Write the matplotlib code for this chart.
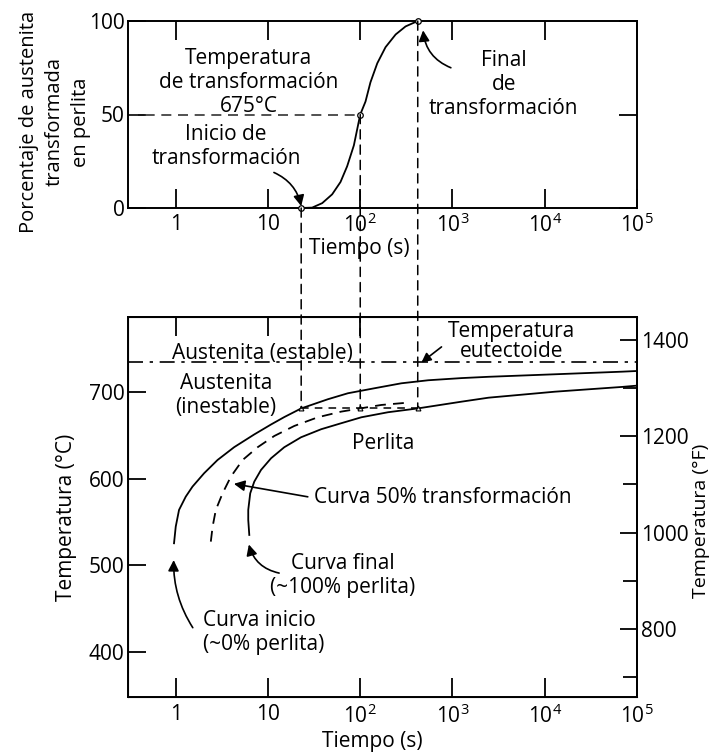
import numpy as np
import matplotlib
matplotlib.use("Agg")
import matplotlib.pyplot as plt
from matplotlib.patches import ConnectionPatch
from matplotlib.ticker import NullLocator

plt.rcParams['font.family'] = ['Open Sans', 'DejaVu Sans']
plt.rcParams['mathtext.default'] = 'regular'
plt.rcParams['font.size'] = 15

# --- data ---
# upper chart: % austenite transformed at 675 C
t_pct = [22.5, 30.1, 38.7, 49.6, 61.1, 72.1, 85.3, 100, 114, 129, 153, 188, 242, 310, 420]
pct = [0, 0.2, 2.6, 7.3, 13.9, 22.3, 33.5, 50, 56.9, 67.2, 77.4, 86, 92.8, 97.1, 100]
t_marks = [22.9, 100, 420]
pct_marks = [0, 50, 100]

# lower chart: TTT curves
t_start = [0.958, 1.0, 1.086, 1.284, 1.52, 2.03, 2.84, 4.30, 7.10, 10.8, 15.0, 22.9,
           44.6, 73.5, 143, 279, 545, 1253, 2460, 12850, 68700, 1e5]
T_start = [525.4, 544.6, 563.9, 579.2, 590.8, 606.2, 621.5, 636.3, 651, 662.5, 671, 681,
           691.6, 698.5, 704.3, 710, 713.5, 716, 717.5, 720.4, 723.4, 724.2]
t_half = [2.40, 2.51, 2.72, 3.22, 3.96, 5.31, 7.72, 11.7, 19.3, 34.7, 62.1, 100, 169, 330]
T_half = [527.3, 544.6, 563.9, 583.1, 602.3, 621.5, 636.2, 649.2, 660.8, 670.8, 677.3, 681, 685, 687.7]
t_end = [6.27, 6.11, 6.11, 6.42, 7.10, 8.40, 10.8, 15.0, 22.8, 37.7, 62.1, 103, 200, 420,
         1253, 2460, 12850, 68700, 1e5]
T_end = [535, 552.3, 563.9, 583.1, 596.5, 610, 623.5, 636.2, 647.7, 657, 663.9, 670.8, 676.6, 681,
         688.8, 693.4, 700.3, 705.8, 707.3]
T_iso = 681          # isothermal line (675 C in the figure)
T_eut = 734          # eutectoid temperature line

xticks = [1, 10, 100, 1e3, 1e4, 1e5]
xlabels = ['1', '10', '10$^2$', '10$^3$', '10$^4$', '10$^5$']
ylim_C = (348, 786.5)


def c2f(c):
    return c * 9 / 5 + 32


fig = plt.figure(figsize=(7.17, 7.52), dpi=100)
L, W = 127.5 / 717, 509.5 / 717
ax1 = fig.add_axes([L, 1 - 208 / 752, W, 187 / 752])
ax2 = fig.add_axes([L, 1 - 697 / 752, W, 380 / 752])

for ax in (ax1, ax2):
    ax.set_xscale('log')
    ax.set_xlim(0.3, 1e5)
    ax.set_xticks(xticks)
    ax.set_xticklabels(xlabels)
    ax.xaxis.set_minor_locator(NullLocator())
    for s in ax.spines.values():
        s.set_linewidth(1.4)

# ---------- upper chart ----------
ax1.set_ylim(0, 100)
ax1.set_yticks([0, 50, 100])
ax1.tick_params(axis='x', direction='in', length=14, width=1.3, top=True, pad=4)
ax1.tick_params(axis='y', direction='in', length=13, width=1.3, right=True, pad=2)
ax1.plot(t_pct, pct, color='black', lw=1.3, clip_on=False)
ax1.plot(t_marks, pct_marks, 'o', ms=4, mfc='white', mec='black', mew=0.9, clip_on=False, zorder=5)
ax1.plot([0.3, t_marks[1]], [50, 50], color='#333333', lw=1.2, ls=(0, (6, 4)))

ax1.text(6.2, 67, 'Temperatura\nde transformación\n675°C', ha='center', va='center')
ax1.text(3.5, 33, 'Inicio de\ntransformación', ha='center', va='center')
ax1.annotate('', xy=(22.9, 1), xytext=(11.6, 19),
             arrowprops=dict(arrowstyle='-|>', color='black', lw=1.2, mutation_scale=16,
                             connectionstyle='arc3,rad=-0.25', shrinkA=0, shrinkB=0))
ax1.text(3600, 66, 'Final\nde\ntransformación', ha='center', va='center')
ax1.annotate('', xy=(480, 95), xytext=(960, 75),
             arrowprops=dict(arrowstyle='-|>', color='black', lw=1.2, mutation_scale=16,
                             connectionstyle='arc3,rad=-0.3', shrinkA=0, shrinkB=0))

ax1.set_ylabel('Porcentaje de austenita\ntransformada\nen perlita', linespacing=1.4, fontsize=14.5)
ax1.yaxis.set_label_coords(-0.072, 0.46)
ax1.set_xlabel('Tiempo (s)')
ax1.xaxis.set_label_coords(0.455, -0.16)

# ---------- lower chart ----------
ax2.set_ylim(*ylim_C)
ax2.set_yticks([400, 500, 600, 700])
ax2.tick_params(axis='x', direction='in', length=14, width=1.3, pad=5)
ax2.tick_params(axis='y', direction='in', length=13, width=1.3, pad=2)
sec = ax2.secondary_xaxis('top')
sec.set_xticks([1, 10, 100])
sec.set_xticklabels([])
sec.xaxis.set_minor_locator(NullLocator())
sec.tick_params(direction='in', length=14, width=1.3)
sec.spines['top'].set_linewidth(1.4)

ax2.plot(t_start, T_start, color='black', lw=1.3)
ax2.plot(t_end, T_end, color='black', lw=1.3)
ax2.plot(t_half, T_half, color='black', lw=1.3, ls=(0, (6, 4)))
ax2.axhline(T_eut, color='black', lw=1.2, ls=(0, (9, 4, 2, 4)))
ax2.plot([t_marks[0], t_marks[2]], [T_iso, T_iso], color='black', lw=1.1, ls=(0, (5, 4)))
ax2.plot(t_marks, [T_iso] * 3, '^', ms=3.5, mfc='white', mec='black', mew=0.8, zorder=5)

ax2.text(8.8, 744, 'Austenita (estable)', ha='center', va='center')
ax2.text(3.5, 696, 'Austenita\n(inestable)', ha='center', va='center')
ax2.text(178, 641, 'Perlita', ha='center', va='center')
ax2.text(4400, 758, 'Temperatura\neutectoide', ha='center', va='center', linespacing=0.95)
ax2.annotate('', xy=(460, T_eut), xytext=(760, 752),
             arrowprops=dict(arrowstyle='-|>', color='black', lw=1.2, mutation_scale=14,
                             shrinkA=0, shrinkB=0))
ax2.text(31.6, 578, 'Curva 50% transformación', ha='left', va='center')
ax2.annotate('', xy=(4.27, 594), xytext=(27, 579),
             arrowprops=dict(arrowstyle='-|>', color='black', lw=1.2, mutation_scale=16,
                             shrinkA=0, shrinkB=0))
ax2.text(64, 488, 'Curva final\n(~100% perlita)', ha='center', va='center')
ax2.annotate('', xy=(6.2, 524), xytext=(13.2, 491),
             arrowprops=dict(arrowstyle='-|>', color='black', lw=1.2, mutation_scale=16,
                             connectionstyle='arc3,rad=-0.3', shrinkA=0, shrinkB=0))
ax2.text(1.97, 422, 'Curva inicio\n(~0% perlita)', ha='left', va='center')
ax2.annotate('', xy=(0.95, 506), xytext=(1.53, 428),
             arrowprops=dict(arrowstyle='-|>', color='black', lw=1.2, mutation_scale=16,
                             connectionstyle='arc3,rad=-0.15', shrinkA=0, shrinkB=0))

ax2.set_ylabel('Temperatura (°C)')
ax2.yaxis.set_label_coords(-0.1, 0.474)
ax2.set_xlabel('Tiempo (s)')
ax2.xaxis.set_label_coords(0.481, -0.09)

ax3 = ax2.twinx()
ax3.set_ylim(c2f(ylim_C[0]), c2f(ylim_C[1]))
ax3.set_yticks([800, 1000, 1200, 1400])
ax3.set_yticks([700, 900, 1100, 1300], minor=True)
ax3.tick_params(axis='y', which='major', direction='in', length=12, width=1.3, pad=3)
ax3.tick_params(axis='y', which='minor', direction='in', length=10, width=1.3)
ax3.spines['right'].set_linewidth(1.4)
ax3.set_ylabel('Temperatura (°F)', fontsize=14)
ax3.yaxis.set_label_coords(1.108, 0.463)

# dashed verticals linking the two charts
for t, p in zip(t_marks, pct_marks):
    con = ConnectionPatch(xyA=(t, p), coordsA=ax1.transData,
                          xyB=(t, T_iso), coordsB=ax2.transData,
                          color='black', lw=1.1, ls=(0, (6, 4)))
    fig.add_artist(con)

fig.savefig('out.png', dpi=100)
